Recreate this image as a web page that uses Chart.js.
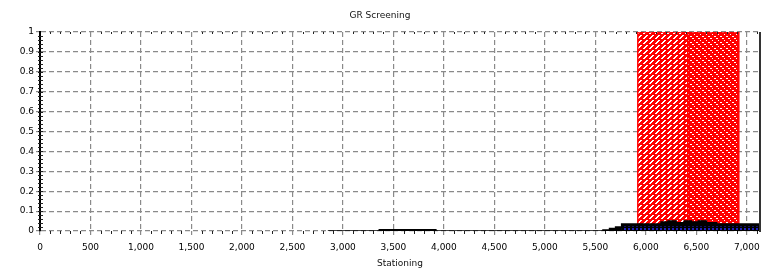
<!DOCTYPE html>
<html><head><meta charset="utf-8">
<script src="https://cdn.jsdelivr.net/npm/chart.js@4/dist/chart.umd.min.js"></script>
<style>html,body{margin:0;padding:0;background:#fff}#wrap{width:769px;height:271px}</style>
</head><body><div id="wrap"><canvas id="c" width="769" height="271"></canvas></div>
<script>
// ---- data ----
const chartTitle = "GR Screening";
const xTitle = "Stationing";
const xMin = 0, xMax = 7130;
const xTickValues = [0, 500, 1000, 1500, 2000, 2500, 3000, 3500, 4000, 4500, 5000, 5500, 6000, 6500, 7000];
const yTickValues = [0, 0.1, 0.2, 0.3, 0.4, 0.5, 0.6, 0.7, 0.8, 0.9, 1];
const yMin = 0, yMax = 1;
// red screening zones (stationing start/end, height)
const zoneA = [5920, 6415];
const zoneB = [6415, 6920];
const zoneHeight = 1;
// GR values (step series)
const grStation = [2850, 3360, 3920, 5575, 5640, 5700, 5760, 6150, 6220, 6300, 6380, 6450, 6520, 6600, 6700, 7130];
const grValue   = [0, 0.006, 0, 0.005, 0.012, 0.02, 0.035, 0.045, 0.05, 0.042, 0.05, 0.045, 0.05, 0.042, 0.035, 0.035];
// blue series
const blueStation = [5760, 7130];
const blueValue = [0.022, 0.022];

function zonePoints(z, h){ return [{x:z[0],y:0},{x:z[0],y:h},{x:z[1],y:h},{x:z[1],y:0}]; }
function pts(xs, ys){ return xs.map((x,i)=>({x:x,y:ys[i]})); }

function makePattern(draw, w, h){
  const cv = document.createElement('canvas'); cv.width = w; cv.height = h;
  const g = cv.getContext('2d'); draw(g, w, h);
  return document.getElementById('c').getContext('2d').createPattern(cv, 'repeat');
}
const patA = makePattern((g,w,h)=>{ g.fillStyle='#ff0000'; g.fillRect(0,0,w,h);
  g.fillStyle='#ffffff'; g.fillRect(4,0,2,1); g.fillRect(3,1,2,1); g.fillRect(2,2,2,1); g.fillRect(1,3,2,1); }, 6, 5);
const patB = makePattern((g,w,h)=>{ g.fillStyle='#ff0000'; g.fillRect(0,0,w,h);
  g.fillStyle='#ffffff'; g.fillRect(0,0,2,1); g.fillRect(2,2,2,1); g.fillRect(4,4,1,1); }, 6, 6);
const patBlue = makePattern((g,w,h)=>{ g.fillStyle='#2020c0'; g.fillRect(0,0,2,2); }, 4, 3);

const FONT = "'DejaVu Sans', sans-serif";

const extras = {
  id: 'extras',
  afterDatasetsDraw(chart){
    const {ctx, chartArea:a, scales:{x, y}} = chart;
    ctx.save();
    ctx.strokeStyle = '#222'; ctx.lineWidth = 1;
    for (let v = 100; v < xMax; v += 100){
      if (v % 500 === 0) continue;
      const px = Math.round(x.getPixelForValue(v)) + 0.5;
      ctx.beginPath(); ctx.moveTo(px, a.bottom); ctx.lineTo(px, a.bottom + 3); ctx.stroke();
      ctx.beginPath(); ctx.moveTo(px, a.top); ctx.lineTo(px, a.top + 2); ctx.stroke();
    }
    for (let v = 0.02; v < yMax; v += 0.02){
      const py = Math.round(y.getPixelForValue(v)) + 0.5;
      ctx.beginPath(); ctx.moveTo(a.left - 2, py); ctx.lineTo(a.left + 3, py); ctx.stroke();
    }
    ctx.strokeStyle = '#333'; ctx.lineWidth = 2;
    ctx.beginPath(); ctx.moveTo(a.right, a.top); ctx.lineTo(a.right, a.bottom + 1); ctx.stroke();
    ctx.restore();
  }
};

new Chart(document.getElementById('c'), {
  type: 'line',
  data: { datasets: [
    { data: zonePoints(zoneA, zoneHeight), borderColor:'#ff0000', borderWidth:1.5, backgroundColor: patA, fill:'origin', pointRadius:0, order:4 },
    { data: zonePoints(zoneB, zoneHeight), borderColor:'#ff0000', borderWidth:1.5, backgroundColor: patB, fill:'origin', pointRadius:0, order:3 },
    { data: pts(grStation, grValue), stepped:true, borderColor:'#000000', borderWidth:1.5, backgroundColor:'#000000', fill:'origin', pointRadius:0, order:2 },
    { data: pts(blueStation, blueValue), stepped:true, borderColor:'rgba(0,0,0,0)', borderWidth:0, backgroundColor: patBlue, fill:'origin', pointRadius:0, order:1 }
  ]},
  options: {
    responsive:false, animation:false, devicePixelRatio:1,
    layout:{ padding:{ left:0, right:9, top:0, bottom:0 } },
    plugins:{
      legend:{display:false}, tooltip:{enabled:false},
      title:{ display:true, text: chartTitle, color:'#111', font:{family:FONT, size:9, weight:'normal'}, padding:{top:10, bottom:11.2} }
    },
    scales:{
      x:{ type:'linear', min:xMin, max:xMax,
        afterBuildTicks(s){ s.ticks = xTickValues.map(v=>({value:v})); },
        ticks:{ color:'#000', font:{family:FONT, size:9}, padding:7, maxRotation:0, autoSkip:false,
          callback:(v)=> Number(v).toLocaleString('en-US') },
        grid:{ color:'#8a8a8a', lineWidth:1.2, tickLength:4, tickColor:'#8a8a8a' },
        border:{ display:false, dash:[5,3] },
        title:{ display:true, text:xTitle, color:'#111', font:{family:FONT, size:9}, padding:{top:0, bottom:2} },
        afterFit(s){ s.height = 40; }
      },
      y:{ min:yMin, max:yMax,
        afterBuildTicks(s){ s.ticks = yTickValues.map(v=>({value:v})); },
        ticks:{ color:'#000', font:{family:FONT, size:9}, padding:2, autoSkip:false,
          callback:(v)=> String(v) },
        grid:{ color:'#8a8a8a', lineWidth:1.2, tickLength:4, tickColor:'#8a8a8a' },
        border:{ display:true, color:'#000', width:2, dash:[5,3] },
        afterFit(s){ s.width = 40; }
      }
    }
  },
  plugins:[extras]
});
</script></body></html>
